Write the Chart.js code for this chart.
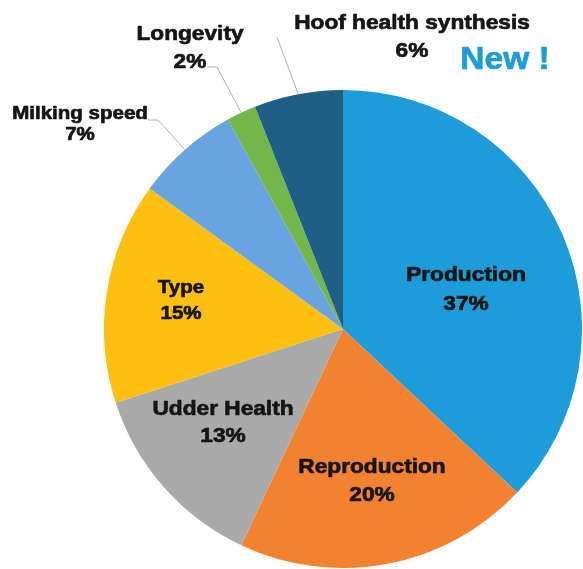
<!DOCTYPE html>
<html>
<head>
<meta charset="utf-8">
<script src="https://cdn.jsdelivr.net/npm/chart.js@4"></script>
<style>
  html, body { margin: 0; padding: 0; background: #fff; }
  canvas { display: block; }
</style>
</head>
<body>
<canvas id="myChart" width="583" height="569"></canvas>
<script>
// categories and shares, clockwise from 12 o'clock
var labels = ["Production", "Reproduction", "Udder Health", "Type", "Milking speed", "Longevity", "Hoof health synthesis"];
var shares = [37, 20, 13, 15, 7, 2, 6];
var colors = ["#1c9dda", "#f28230", "#a9a9a9", "#fdc010", "#68a4e0", "#73b64a", "#1f5f86"];

// where each label sits: x, y of line 1 and line 2, font size, and the leader bend for outside ones
var labelLayout = [
  { x: 466, y1: 275, y2: 304, size: 21 },
  { x: 372, y1: 467, y2: 495, size: 21 },
  { x: 223, y1: 409, y2: 436, size: 21 },
  { x: 181, y1: 288, y2: 314, size: 19 },
  { x: 80, y1: 114, y2: 135, size: 19, line: [[148, 120], [158, 120]] },
  { x: 190, y1: 34, y2: 62, size: 21, line: [[207, 67], [217, 67]] },
  { x: 412, y1: 23, y2: 51, size: 21, line: [[277, 37]] },
];

function stretchText(c, str, x, y, size, color, sx) {
  c.save();
  c.translate(x, y);
  c.scale(sx, 1);
  c.font = "bold " + size + "px 'Liberation Sans', Arial, sans-serif";
  c.textAlign = "center";
  c.textBaseline = "middle";
  c.fillStyle = color;
  c.strokeStyle = color;
  c.lineWidth = 0.7;
  c.lineJoin = "round";
  c.fillText(str, 0, 0);
  c.strokeText(str, 0, 0);
  c.restore();
}

var pieLabels = {
  id: "pieLabels",
  afterDatasetsDraw: function (chart) {
    var c = chart.ctx;
    var arcs = chart.getDatasetMeta(0).data;
    arcs.forEach(function (arc, i) {
      var lay = labelLayout[i];
      if (lay.line) {
        var mid = (arc.startAngle + arc.endAngle) / 2;
        var ex = arc.x + Math.cos(mid) * arc.outerRadius;
        var ey = arc.y + Math.sin(mid) * arc.outerRadius;
        c.save();
        c.strokeStyle = "#b0b0b0";
        c.lineWidth = 1;
        c.beginPath();
        c.moveTo(ex, ey);
        for (var k = lay.line.length - 1; k >= 0; k--) {
          c.lineTo(lay.line[k][0], lay.line[k][1]);
        }
        c.stroke();
        c.restore();
      }
      stretchText(c, labels[i], lay.x, lay.y1, lay.size, "#151515", 1.08);
      stretchText(c, shares[i] + "%", lay.x, lay.y2, lay.size, "#151515", 1.08);
    });
    stretchText(c, "New !", 505, 60, 31, "#1c9dda", 1.08);
  },
};

var ctx = document.getElementById("myChart").getContext("2d");
var myChart = new Chart(ctx, {
  type: "pie",
  data: {
    labels: labels,
    datasets: [
      {
        data: shares,
        backgroundColor: colors,
        borderWidth: 0,
      },
    ],
  },
  options: {
    responsive: false,
    animation: false,
    layout: { padding: { left: 104, right: 1, top: 90, bottom: 1 } },
    plugins: {
      legend: { display: false },
      tooltip: { enabled: false },
    },
  },
  plugins: [pieLabels],
});
</script>
</body>
</html>
